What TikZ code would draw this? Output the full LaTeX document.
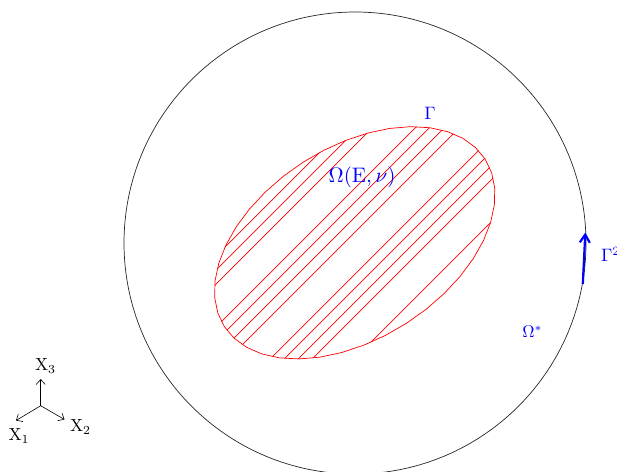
\documentclass[tikz,border=0pt]{standalone}
\usepackage{graphicx}
\usetikzlibrary{arrows.meta}
\begin{document}
\begin{tikzpicture}[x=1pt,y=-1pt,
  lbl/.style={text=blue, inner sep=0pt},
  hatchline/.style={red, line width=0.7pt},
  bound/.style={red, line width=0.7pt},
  axisarrow/.style={black, line width=0.6pt, -{Straight Barb[length=5pt,width=9pt]}},
  axlbl/.style={inner sep=0pt}]
\useasboundingbox (0,0) rectangle (617,471);
% outer circle
\draw[line width=0.7pt, black!85] (355,243) circle[radius=231pt];
% hatching clipped to the inclusion
\begin{scope}
  \clip plot[domain=0:360,samples=61,variable=\t]
    ({354.7+155*cos(\t)*cos(32.7)+95.7*sin(\t)*sin(32.7)},
     {242.8-155*cos(\t)*sin(32.7)+95.7*sin(\t)*cos(32.7)}) -- cycle;
  \foreach \c in {472,486,500,543,557,572,587,629,643,657,671,713}
    \draw[hatchline] ({150},{\c-150}) -- ({550},{\c-550});
\end{scope}
\draw[bound] plot[domain=0:360,samples=41,variable=\t]
    ({354.7+155*cos(\t)*cos(32.7)+95.7*sin(\t)*sin(32.7)},
     {242.8-155*cos(\t)*sin(32.7)+95.7*sin(\t)*cos(32.7)}) -- cycle;
% labels
\node[lbl] (gtop) at (430,113) {\scalebox{1.8}{$\Gamma$}};
\node[lbl] (omega) at (362,177) {\scalebox{2.1}{$\Omega(\mathrm{E},\nu)$}};
\node[lbl] (ostar) at (532.5,332) {\scalebox{1.7}{$\Omega^{*}$}};
\node[lbl, anchor=west] (gright) at (601,254.5) {\scalebox{1.8}{$\Gamma^{2}$}};
% traction arrow on outer boundary
\coordinate (gs) at (582.8,284);
\coordinate (ge) at (585.3,232.5);
\draw[blue, line width=2.2pt, -{Straight Barb[length=8pt,width=10pt]}] (gs) -- (ge);
% axes
\coordinate (o) at (40.7,405.7);
\coordinate (x3) at (40.7,379);
\coordinate (x1) at (16,420.5);
\coordinate (x2) at (64.5,419.5);
\draw[axisarrow] (o) -- (x3);
\draw[axisarrow] (o) -- (x1);
\draw[axisarrow] (o) -- (x2);
\node[axlbl] (lx3) at (45.5,366) {\scalebox{1.75}{X$_3$}};
\node[axlbl] (lx1) at (19,436) {\scalebox{1.75}{X$_1$}};
\node[axlbl] (lx2) at (80.5,427) {\scalebox{1.75}{X$_2$}};
\end{tikzpicture}
\end{document}
